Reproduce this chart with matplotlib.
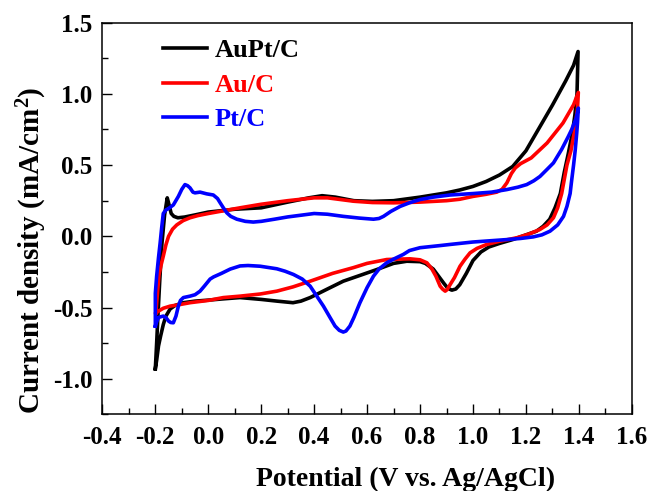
"""
Cyclic voltammograms of AuPt/C, Au/C and Pt/C catalysts.
"""
import matplotlib
matplotlib.use("Agg")
import matplotlib.pyplot as plt
from matplotlib.ticker import MultipleLocator

# (potential V, current density mA/cm2), closed CV loops
aupt_E = [-0.20, -0.195, -0.19, -0.183, -0.175, -0.165, -0.155, -0.148, -0.14, -0.13,
          -0.115, -0.09, -0.05, 0.0, 0.05, 0.10, 0.20, 0.30, 0.38, 0.43,
          0.48, 0.55, 0.62, 0.70, 0.80, 0.90, 0.95, 1.00, 1.05, 1.10,
          1.15, 1.20, 1.25, 1.30, 1.35, 1.38, 1.397,
          1.393, 1.385, 1.375, 1.36, 1.345, 1.33, 1.31, 1.29, 1.265, 1.24,
          1.20, 1.15, 1.10, 1.06, 1.03, 1.00, 0.975, 0.95, 0.935, 0.92,
          0.905, 0.89, 0.87, 0.85, 0.82, 0.80, 0.75, 0.70, 0.637, 0.58,
          0.51, 0.45, 0.385, 0.35, 0.32, 0.26, 0.20, 0.12, 0.05, 0.0,
          -0.05, -0.094, -0.125, -0.144, -0.16, -0.17, -0.18, -0.188, -0.195, -0.20]
aupt_j = [-0.93, -0.75, -0.55, -0.30, -0.05, 0.15, 0.27, 0.22, 0.16, 0.14,
          0.13, 0.135, 0.15, 0.17, 0.18, 0.19, 0.20, 0.24, 0.27, 0.285,
          0.275, 0.25, 0.245, 0.25, 0.275, 0.305, 0.325, 0.35, 0.385, 0.43,
          0.49, 0.60, 0.76, 0.92, 1.09, 1.20, 1.297,
          1.00, 0.85, 0.72, 0.58, 0.45, 0.30, 0.20, 0.12, 0.07, 0.036,
          0.01, -0.023, -0.05, -0.075, -0.11, -0.17, -0.26, -0.34, -0.37, -0.378,
          -0.365, -0.33, -0.28, -0.23, -0.19, -0.178, -0.175, -0.19, -0.233, -0.27,
          -0.315, -0.37, -0.43, -0.455, -0.466, -0.455, -0.443, -0.43, -0.44, -0.448,
          -0.455, -0.466, -0.485, -0.51, -0.56, -0.62, -0.70, -0.77, -0.87, -0.93]

au_E = [-0.198, -0.192, -0.186, -0.178, -0.17, -0.16, -0.15, -0.135, -0.119, -0.095,
        -0.069, -0.04, 0.0, 0.06, 0.12, 0.20, 0.30, 0.40, 0.45, 0.50,
        0.55, 0.62, 0.70, 0.80, 0.90, 0.95, 1.00, 1.05, 1.09, 1.11,
        1.128, 1.145, 1.16, 1.18, 1.22, 1.28, 1.34, 1.38, 1.398,
        1.395, 1.385, 1.37, 1.355, 1.345, 1.335, 1.32, 1.304, 1.28, 1.253,
        1.21, 1.166, 1.10, 1.052, 1.015, 0.989, 0.97, 0.951, 0.93, 0.914,
        0.902, 0.895, 0.885, 0.876, 0.86, 0.845, 0.826, 0.80, 0.762, 0.72,
        0.674, 0.60, 0.548, 0.47, 0.385, 0.32, 0.259, 0.196, 0.12, 0.057,
        0.0, -0.069, -0.11, -0.144, -0.17, -0.188, -0.198]
au_j = [-0.54, -0.40, -0.27, -0.20, -0.14, -0.06, 0.0, 0.05, 0.08, 0.11,
        0.13, 0.145, 0.16, 0.18, 0.20, 0.225, 0.25, 0.27, 0.27, 0.258,
        0.246, 0.237, 0.235, 0.24, 0.25, 0.26, 0.28, 0.295, 0.31, 0.33,
        0.375, 0.44, 0.48, 0.51, 0.55, 0.655, 0.795, 0.923, 1.01,
        0.90, 0.75, 0.60, 0.50, 0.40, 0.30, 0.20, 0.13, 0.08, 0.048,
        0.015, -0.01, -0.035, -0.057, -0.085, -0.116, -0.16, -0.21, -0.29, -0.338,
        -0.375, -0.385, -0.37, -0.35, -0.28, -0.23, -0.186, -0.165, -0.158, -0.16,
        -0.163, -0.19, -0.22, -0.26, -0.315, -0.355, -0.385, -0.405, -0.42, -0.43,
        -0.45, -0.466, -0.48, -0.49, -0.505, -0.525, -0.54]

pt_E = [-0.20, -0.20, -0.195, -0.188, -0.182, -0.176, -0.17, -0.16, -0.15, -0.132,
        -0.113, -0.10, -0.088, -0.078, -0.069, -0.058, -0.05, -0.031, -0.006, 0.019,
        0.035, 0.045, 0.057, 0.07, 0.085, 0.108, 0.14, 0.17, 0.20, 0.25,
        0.30, 0.40, 0.45, 0.51, 0.57, 0.624, 0.645, 0.662, 0.69, 0.725,
        0.76, 0.80, 0.85, 0.914, 1.00, 1.07, 1.128, 1.17, 1.203, 1.23,
        1.253, 1.28, 1.304, 1.335, 1.36, 1.373, 1.39, 1.398,
        1.395, 1.392, 1.386, 1.38, 1.372, 1.367, 1.355, 1.342, 1.32, 1.291,
        1.26, 1.228, 1.18, 1.128, 1.00, 0.914, 0.876, 0.80, 0.76, 0.737,
        0.70, 0.674, 0.645, 0.624, 0.60, 0.573, 0.55, 0.535, 0.52, 0.51,
        0.495, 0.479, 0.46, 0.435, 0.41, 0.385, 0.355, 0.322, 0.29, 0.259,
        0.196, 0.15, 0.12, 0.083, 0.05, 0.02, 0.007, -0.015, -0.031, -0.05,
        -0.069, -0.094, -0.105, -0.113, -0.122, -0.132, -0.142, -0.15, -0.16, -0.17,
        -0.18, -0.188, -0.195, -0.20]
pt_j = [-0.63, -0.40, -0.28, -0.15, -0.05, 0.06, 0.16, 0.185, 0.195, 0.22,
        0.28, 0.33, 0.363, 0.355, 0.34, 0.31, 0.305, 0.31, 0.298, 0.29,
        0.265, 0.235, 0.20, 0.165, 0.14, 0.12, 0.105, 0.10, 0.105, 0.12,
        0.136, 0.16, 0.155, 0.14, 0.128, 0.12, 0.125, 0.14, 0.175, 0.21,
        0.235, 0.258, 0.275, 0.29, 0.30, 0.31, 0.328, 0.345, 0.363, 0.39,
        0.42, 0.47, 0.515, 0.61, 0.70, 0.75, 0.83, 0.90,
        0.80, 0.725, 0.60, 0.50, 0.38, 0.30, 0.21, 0.14, 0.08, 0.036,
        0.01, -0.004, -0.015, -0.023, -0.04, -0.057, -0.065, -0.08, -0.10, -0.127,
        -0.16, -0.186, -0.23, -0.28, -0.36, -0.466, -0.57, -0.63, -0.665, -0.672,
        -0.66, -0.63, -0.57, -0.49, -0.42, -0.35, -0.30, -0.268, -0.245, -0.228,
        -0.21, -0.205, -0.208, -0.23, -0.26, -0.285, -0.30, -0.35, -0.385, -0.41,
        -0.42, -0.43, -0.45, -0.49, -0.56, -0.607, -0.605, -0.595, -0.57, -0.56,
        -0.565, -0.57, -0.60, -0.63]

labels = ["AuPt/C", "Au/C", "Pt/C"]
colors = ["#000000", "#ff0000", "#0000ff"]

plt.rcParams["font.family"] = ["Liberation Serif", "DejaVu Serif"]
plt.rcParams["font.weight"] = "bold"
plt.rcParams["mathtext.fontset"] = "custom"
plt.rcParams["mathtext.rm"] = "Liberation Serif:bold"
plt.rcParams["mathtext.default"] = "rm"

fig = plt.figure(figsize=(6.48, 4.91), dpi=100)
ax = fig.add_axes([0.158, 0.156, 0.817, 0.798])

for E, j, lab, c in zip([aupt_E, au_E, pt_E], [aupt_j, au_j, pt_j], labels, colors):
    ax.plot(E, j, color=c, lw=2.6, label=lab, solid_joinstyle="round")

ax.set_xlim(-0.4, 1.6)
ax.set_ylim(-1.25, 1.5)
ax.xaxis.set_major_locator(MultipleLocator(0.2))
ax.xaxis.set_minor_locator(MultipleLocator(0.1))
ax.yaxis.set_major_locator(MultipleLocator(0.5))
ax.yaxis.set_minor_locator(MultipleLocator(0.25))
ax.tick_params(which="both", direction="in", width=1.0, labelsize=18)
ax.tick_params(which="major", length=7)
ax.tick_params(which="minor", length=4)
ax.tick_params(axis="x", pad=8)
ax.tick_params(axis="y", pad=7)
ax.xaxis.set_major_formatter(plt.FuncFormatter(lambda v, p: f"{v:.1f}"))
ax.yaxis.set_major_formatter(plt.FuncFormatter(lambda v, p: f"{v:.1f}"))
for s in ax.spines.values():
    s.set_linewidth(1.1)

ax.set_xlabel("Potential (V vs. Ag/AgCl)", fontsize=20, fontweight="bold")
ax.set_ylabel("Current density (mA/cm$^2$)", fontsize=21, fontweight="bold")
ax.xaxis.set_label_coords(0.573, -0.1825)
ax.yaxis.set_label_coords(-0.133, 0.42)
ax.xaxis.label.set_va("baseline")
ax.yaxis.label.set_va("center")

leg = ax.legend(loc="upper left", bbox_to_anchor=(0.069, 1.019), frameon=False,
                handlelength=1.67, handletextpad=0.3, labelspacing=0.42,
                labelcolor="linecolor", prop={"weight": "bold", "size": 19})

fig.savefig("out.png", dpi=100)
